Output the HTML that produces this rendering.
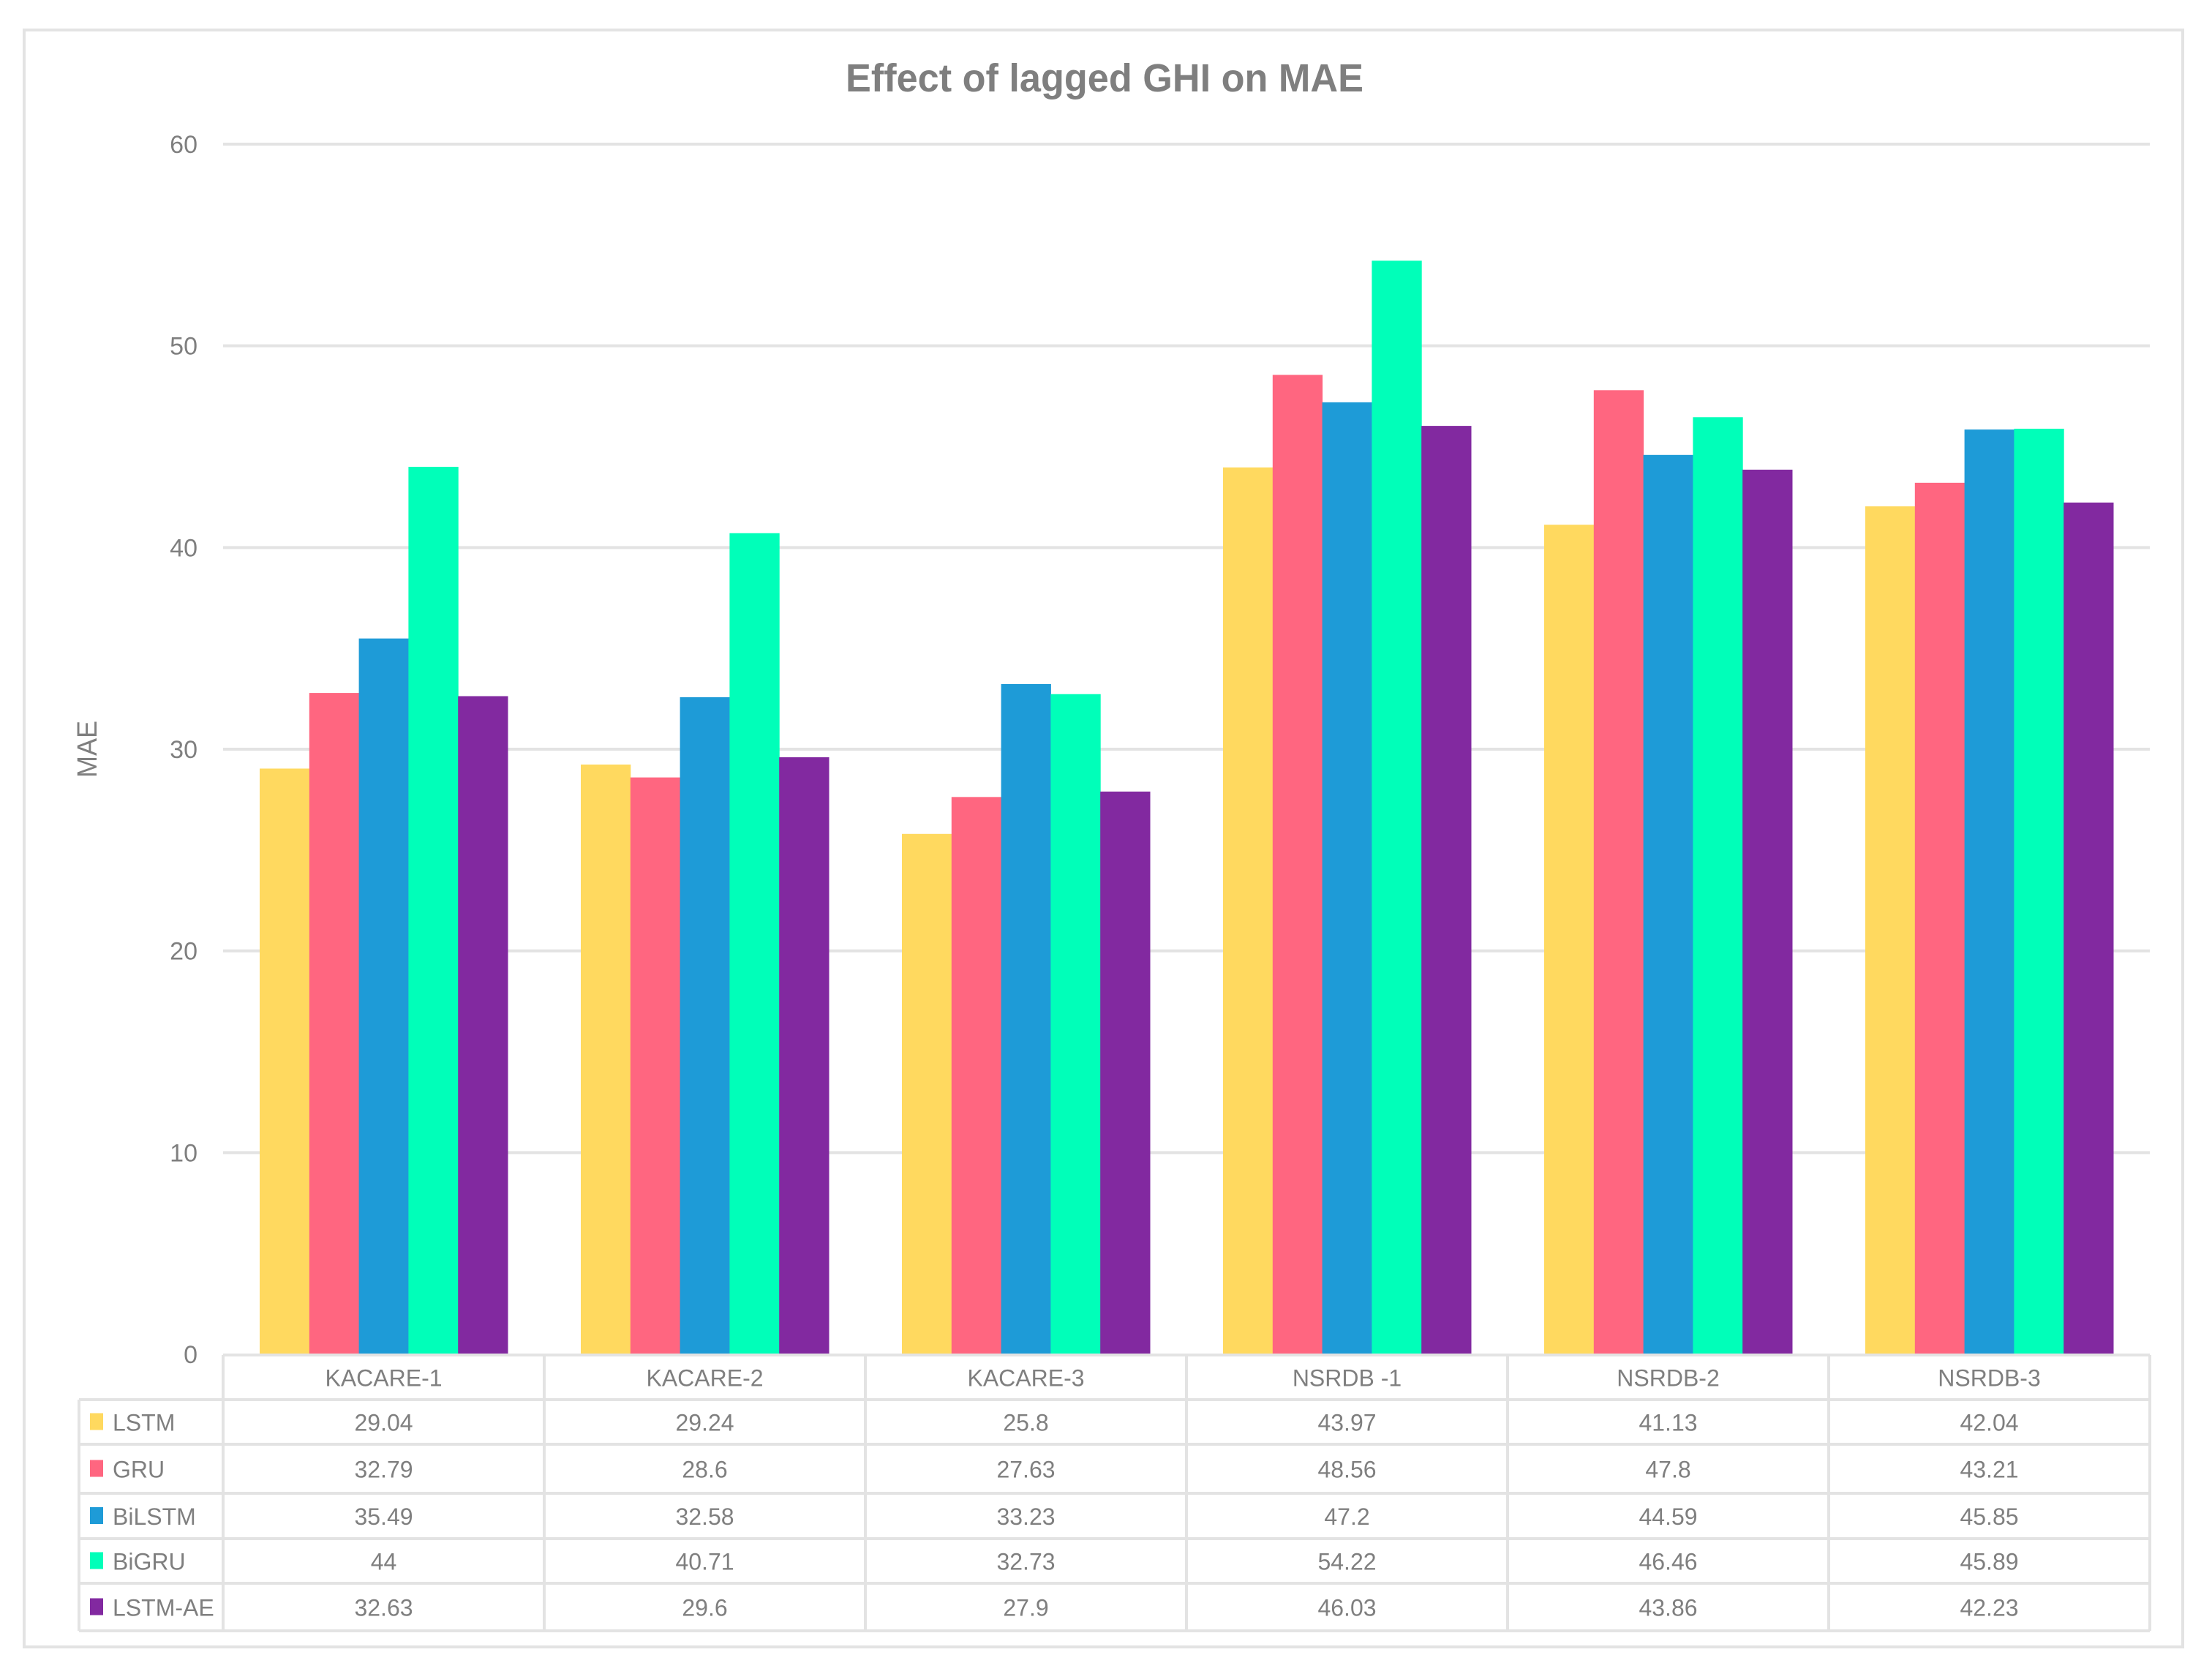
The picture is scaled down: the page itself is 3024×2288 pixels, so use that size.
<!DOCTYPE html>
<html><head><meta charset="utf-8"><style>
html,body{margin:0;padding:0;background:#fff;}
svg{display:block;}
text{font-family:"Liberation Sans",sans-serif;fill:#7f7f7f;}
</style></head><body>
<svg id="chart" width="3024" height="2288" viewBox="0 0 3024 2288" xmlns="http://www.w3.org/2000/svg">
<rect x="33" y="41" width="2951" height="2210" fill="#fff" stroke="#e3e3e3" stroke-width="4"/>
<text x="1510" y="125" text-anchor="middle" font-size="54" font-weight="bold" textLength="708" lengthAdjust="spacingAndGlyphs">Effect of lagged GHI on MAE</text>
<text transform="translate(132,1024) rotate(-90)" text-anchor="middle" font-size="38" textLength="78" lengthAdjust="spacingAndGlyphs">MAE</text>
<g id="grid"></g>
<g id="bars"></g>
<g id="table"></g>
</svg>
<script>
const categories = ["KACARE-1","KACARE-2","KACARE-3","NSRDB -1","NSRDB-2","NSRDB-3"];
const seriesNames = ["LSTM","GRU","BiLSTM","BiGRU","LSTM-AE"];
const lstm = [29.04,29.24,25.8,43.97,41.13,42.04];
const gru = [32.79,28.6,27.63,48.56,47.8,43.21];
const bilstm = [35.49,32.58,33.23,47.2,44.59,45.85];
const bigru = [44,40.71,32.73,54.22,46.46,45.89];
const lstmae = [32.63,29.6,27.9,46.03,43.86,42.23];
const yTicks = [0,10,20,30,40,50,60];

const series = [lstm,gru,bilstm,bigru,lstmae];
const colors = ["#FFD95F","#FF6680","#1E9BD7","#00FFB9","#8229A0"];
const NS="http://www.w3.org/2000/svg";
const X0=305, X1=2939, Y0=1851, Y60=197, YMAX=60;
const catW=(X1-X0)/categories.length;
function yScale(v){return Y0-(v/YMAX)*(Y0-Y60);}
function xCat(i){return X0+i*catW;}
function mk(tag,attrs,parent){const e=document.createElementNS(NS,tag);for(const k in attrs)e.setAttribute(k,attrs[k]);parent.appendChild(e);return e;}
const grid=document.getElementById('grid'), bars=document.getElementById('bars'), table=document.getElementById('table');

yTicks.forEach(t=>{
  const y=yScale(t);
  if(t>0){
    const l=mk('line',{x1:X0,x2:X1,y1:y,y2:y,stroke:'#e3e3e3','stroke-width':4},grid);
    
    
  }
  const tx=mk('text',{x:270,y:y+12,'text-anchor':'end','font-size':34},grid);
  tx.textContent=String(t);
  
  
});

const pad=50, bw=(catW-2*pad)/series.length;
series.forEach((s,si)=>{
  s.forEach((v,ci)=>{
    const x=xCat(ci)+pad+si*bw, y=yScale(v);
    const r=mk('rect',{x:x,y:y,width:bw+0.5,height:Y0-y,fill:colors[si]},bars);
    
    
  });
});

// table
const rowY=[1852,1913,1974,2041,2103,2164,2229];
const TL=108, stroke='#e3e3e3';
function ln(x1,y1,x2,y2,name){const l=mk('line',{x1,y1,x2,y2,stroke,'stroke-width':4},table);}
ln(X0,rowY[0],X1,rowY[0],'table-top-line');
for(let r=1;r<rowY.length;r++) ln(TL,rowY[r],X1,rowY[r],'table-row-line');
ln(TL,rowY[1],TL,rowY[6],'table-left-line');
for(let c=0;c<=categories.length;c++) ln(xCat(c),rowY[0],xCat(c),rowY[6],'table-col-line');
categories.forEach((c,ci)=>{
  const t=mk('text',{x:xCat(ci)+catW/2,y:(rowY[0]+rowY[1])/2+12,'text-anchor':'middle','font-size':32},table);
  t.textContent=c;
  
  
});
series.forEach((s,si)=>{
  const cy=(rowY[si+1]+rowY[si+2])/2;
  const sw=mk('rect',{x:123,y:cy-12,width:18,height:23,fill:colors[si]},table);
  
  
  const lt=mk('text',{x:154,y:cy+12,'font-size':32},table);
  lt.textContent=seriesNames[si];
  
  
  s.forEach((v,ci)=>{
    const t=mk('text',{x:xCat(ci)+catW/2,y:cy+12,'text-anchor':'middle','font-size':32},table);
    t.textContent=String(v);
    
    
  });
});
</script>
</body></html>
